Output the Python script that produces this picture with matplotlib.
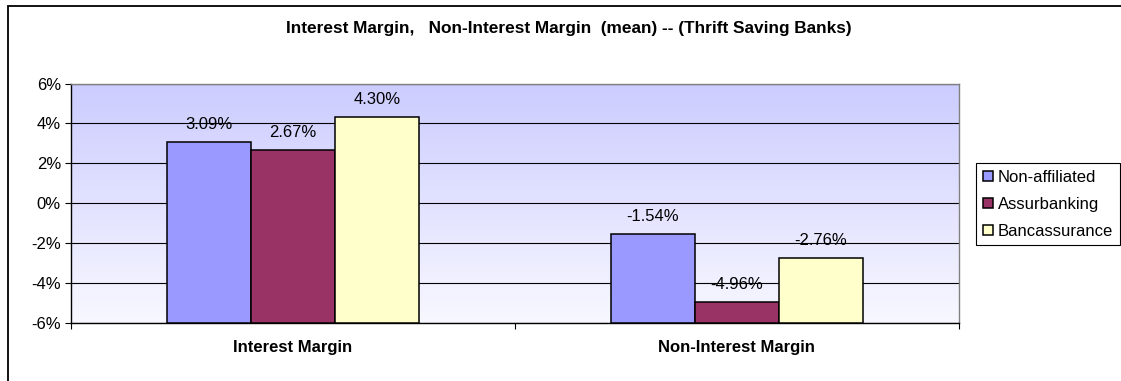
import numpy as np
import matplotlib
matplotlib.use("Agg")
import matplotlib.pyplot as plt
from matplotlib.patches import Rectangle

plt.rcParams['font.family'] = ['Liberation Sans', 'DejaVu Sans']

categories = ["Interest Margin", "Non-Interest Margin"]
series = ["Non-affiliated", "Assurbanking", "Bancassurance"]
values = {
    "Non-affiliated": [3.09, -1.54],
    "Assurbanking": [2.67, -4.96],
    "Bancassurance": [4.30, -2.76],
}
colors = ["#9999FF", "#993366", "#FFFFCC"]
yticks = [-6, -4, -2, 0, 2, 4, 6]

W, H = 1121, 381
fig = plt.figure(figsize=(W / 100, H / 100), dpi=100)

# outer chart frame (runs off the right and bottom edges)
fig.patches.append(Rectangle((7.5 / W, -0.2), 1.2, 1.2 - 6.5 / H,
                             transform=fig.transFigure, fill=False,
                             edgecolor="black", linewidth=1.3, zorder=0))

ax = fig.add_axes([70.7 / W, 1 - 323 / H, (959 - 70.7) / W, (323 - 83.5) / H])

ymin, ymax = -6, 6
xmin, xmax = -0.5, 1.5
ax.set_xlim(xmin, xmax)
ax.set_ylim(ymin, ymax)

# vertical gradient background of the plot area
grad = np.linspace(0, 1, 256).reshape(-1, 1)
top = np.array([0xCC, 0xCC, 0xFF]) / 255
bot = np.array([0xF8, 0xF8, 0xFF]) / 255
img = top * (1 - grad)[..., None] + bot * grad[..., None]
ax.imshow(img, extent=[xmin, xmax, ymin, ymax], aspect="auto",
          origin="upper", zorder=0)

# gridlines
for t in yticks:
    ax.axhline(t, color="#000000", linewidth=0.8, zorder=1)

fs = 12
bw = 0.189
x = np.arange(len(categories))
for i, (s, c) in enumerate(zip(series, colors)):
    vals = np.array(values[s])
    xs = x + (i - 1) * bw
    ax.bar(xs, vals - ymin, bottom=ymin, width=bw, color=c,
           edgecolor="black", linewidth=1.1, zorder=3, label=s)
    for xx, v in zip(xs, vals):
        ax.text(xx, v + 0.88, f"{v:.2f}%", ha="center", va="center",
                fontsize=fs, zorder=4)

for sp in ax.spines.values():
    sp.set_color("#808080")
    sp.set_linewidth(1.0)
ax.spines["left"].set_color("#000000")
ax.spines["bottom"].set_color("#000000")

ax.set_yticks(yticks)
ax.set_yticklabels([f"{t}%" for t in yticks], fontsize=fs)
ax.tick_params(axis="y", direction="out", length=4, width=0.8, pad=3)

ax.set_xticks(x)
ax.set_xticklabels(categories, fontsize=fs, fontweight="bold")
ax.tick_params(axis="x", length=0, pad=12.5)
ax.set_xticks([xmin, 0.5, xmax], minor=True)
ax.tick_params(axis="x", which="minor", direction="out", length=4, width=0.8)

fig.text(569 / W, 1 - 28.3 / H,
         "Interest Margin,   Non-Interest Margin  (mean) -- (Thrift Saving Banks)",
         ha="center", va="center", fontsize=12.4, fontweight="bold")

leg = ax.legend(loc="upper left", bbox_to_anchor=(976 / W, 1 - 163 / H),
                bbox_transform=fig.transFigure, fontsize=fs, frameon=True,
                fancybox=False, edgecolor="#000000", framealpha=1,
                handlelength=0.6, handleheight=0.6, handletextpad=0.3,
                labelspacing=0.72, borderpad=0.4, borderaxespad=0)
leg.get_frame().set_linewidth(0.8)

fig.savefig("out.png", dpi=100)
